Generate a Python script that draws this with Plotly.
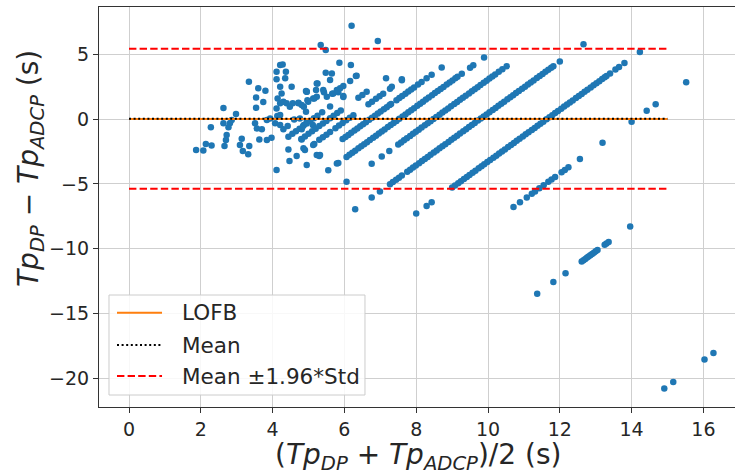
import plotly.graph_objects as go

# ---- scattered points read directly as (mean, difference) ----
cloud_mean = [1.87, 2.07, 2.14, 2.30, 2.28, 2.63, 2.63, 2.81, 2.86, 2.77, 2.72, 2.70, 2.66, 2.98,
              3.14, 3.09, 3.17, 3.35, 3.32, 3.34, 3.54, 3.60, 3.54, 3.74, 3.80, 3.51, 3.56, 3.70,
              3.63, 3.84, 3.97, 3.84, 3.93, 4.11, 4.21, 4.28, 4.11, 4.37, 4.11, 4.35, 4.21, 4.25,
              4.14, 4.21, 4.30, 4.39, 4.56, 4.72, 4.48, 4.11, 4.13, 4.21, 4.07, 4.21, 4.30, 4.42,
              4.44, 4.44, 4.47, 4.67, 4.60, 4.76, 4.81, 4.90, 4.95, 4.81, 4.87, 4.95, 4.93, 4.87,
              4.95, 4.99, 5.21, 5.25, 5.16, 5.12, 5.16, 5.23,
              6.20, 6.93, 5.34, 5.48, 5.86, 6.18, 6.32, 6.16, 5.97, 7.16, 7.60, 7.32, 5.48, 5.65,
              5.60, 5.23, 5.43, 5.66, 5.83, 5.97, 5.23, 4.93, 6.34, 4.53, 4.72, 4.95, 4.97, 5.13,
              4.81, 5.41, 5.51, 5.69, 5.79, 5.88, 5.32, 5.13, 4.86, 5.79]
cloud_diff = [-2.39, -2.42, -1.93, -2.03, -0.64, 0.85, -0.33, -0.33, -0.08, -0.64, -1.23, -1.62, -2.08, 0.39,
              -1.52, -2.00, -2.47, -2.08, -2.72, 2.88, 1.67, 2.37, 0.87, 1.31, 2.18, -0.33, -0.72, -0.79,
              -1.57, -1.62, -1.44, -0.08, 0.05, -3.93, 4.16, 4.21, 3.65, 3.65, 3.06, 3.14, 2.49, 1.98,
              1.59, 1.21, 1.34, 1.21, 1.21, 1.26, 0.95, 0.82, 0.23, 0.31, -0.33, -0.46, -0.79, -0.54,
              -1.36, -2.34, -3.24, -2.85, -0.03, 0.05, -1.57, -2.39, -3.55, -0.79, -0.46, -0.21, 0.56, 0.95,
              2.11, 1.33, 2.24, 2.75, 1.59, -0.46, -1.93, -2.78,
              7.19, 6.01, 5.71, 5.32, 4.34, 4.16, 3.32, 2.93, 2.54, 3.14, 3.06, 2.49, 3.57, 3.52,
              3.01, 2.75, 2.06, 1.95, 2.06, 1.77, 1.72, 2.16, 3.34, 2.49, 1.21, 2.10, 1.46, 1.59,
              1.08, 2.24, 1.72, 1.98, 2.24, 2.37, -2.78, -2.00, -2.26, -3.42]

# ---- points that share one ADCP peak period (the diagonal streaks) ----
# Tp_ADCP level and the Tp_DP values read along each streak
adcp_levels = [5.12, 5.57, 6.10, 6.72, 7.52, 8.48, 9.78, 11.64, 14.10, 18.10, 25.30]

dp_at_5_12 = [3.98, 4.18, 4.38, 4.58, 4.78, 4.98, 5.18, 5.38, 5.64, 6.08, 6.82]
dp_at_5_57 = [4.03, 4.23, 4.43, 4.63, 4.83, 5.03, 5.23, 5.43, 5.63, 5.83, 6.03, 6.23, 7.21, 7.43, 7.67]
dp_at_6_10 = [4.5, 4.7, 4.9, 5.1, 5.4, 5.6, 5.8, 6.0, 6.2, 6.4, 7.24, 7.44, 7.66, 7.86, 8.06, 8.44, 9.1]
dp_at_6_72 = [3.88, 5.18, 5.34, 5.5, 5.66, 5.84, 6.0, 6.16, 6.32, 6.48, 6.66, 6.82, 6.98, 7.14, 7.3,
              7.48, 7.64, 7.8, 7.88, 8.18, 8.34, 8.5, 8.68, 8.84, 9.0, 9.16, 9.38, 9.58, 9.86, 10.14, 10.7]
dp_at_7_52 = [3.58, 4.14, 4.6, 4.76, 4.92, 5.08, 5.26, 5.42, 5.58, 5.74, 5.9, 6.08, 6.24, 6.4, 6.56,
              6.72, 6.9, 7.06, 7.22, 7.38, 7.54, 7.72, 7.88, 8.04, 8.2, 8.36, 8.54, 8.7, 8.86, 9.02,
              9.18, 9.36, 9.52, 9.68, 9.84, 10.0, 10.18, 10.34, 10.5, 10.66, 10.78, 11.02, 11.48, 11.66, 12.26]
dp_at_8_48 = [3.64, 5.04, 5.6, 6.02, 6.52, 6.68, 6.84, 7.0, 7.18, 7.34, 7.5, 7.66, 7.82, 8.0, 8.16,
              8.32, 8.48, 8.64, 8.82, 8.98, 9.14, 9.3, 9.46, 9.64, 9.8, 9.96, 10.12, 10.28, 10.46,
              10.62, 10.78, 10.94, 11.1, 11.28, 11.44, 11.6, 11.76, 11.92, 12.12, 12.32, 12.56]
dp_at_9_78 = [2.82, 3.74, 4.2, 4.76, 4.92, 5.1, 5.26, 5.42, 5.72, 5.88, 6.04, 6.2, 6.38, 6.54, 6.7,
              6.86, 7.02, 7.2, 7.36, 7.52, 7.68, 7.84, 8.02, 8.18, 8.34, 8.5, 8.66, 8.84, 9.0, 9.16,
              9.32, 9.48, 9.66, 9.82, 9.98, 10.14, 10.3, 10.48, 10.64, 10.8, 10.96, 11.12, 11.3,
              11.46, 11.62, 11.78, 11.94, 12.12, 12.28, 12.44, 12.6, 12.76, 12.94, 13.1, 13.26,
              13.42, 13.58, 13.74, 13.86, 14.22, 15.54]
dp_at_11_64 = [4.36, 4.94, 5.22, 6.36, 6.52, 6.7, 6.85, 7.02, 7.18, 7.33, 7.5, 7.66, 7.84, 8.0, 8.15,
               8.32, 8.48, 8.66, 8.82, 8.98, 9.14, 9.3, 9.48, 9.64, 9.8, 9.96, 10.12, 10.3, 10.46,
               10.62, 10.8, 10.96, 11.12, 11.28, 11.44, 11.62, 11.78, 11.94, 12.1, 12.26, 12.44,
               12.6, 12.76, 12.92, 13.08, 13.26, 13.42, 13.58, 13.74, 13.9, 14.08, 14.24, 14.4,
               14.56, 14.72, 14.86, 14.96, 15.16, 15.46, 15.66, 15.96, 16.82]
dp_at_14_10 = [7.32, 7.68, 8.06, 8.34, 8.52, 8.76, 9.0, 9.26, 9.44, 9.64, 10.0, 10.18, 10.38, 11.02,
               12.28, 13.9, 14.74, 15.24, 16.94]
dp_at_18_10 = [4.64, 5.54, 6.22, 7.12, 7.22, 7.32, 7.42, 7.5, 7.6, 7.7, 7.8, 7.9, 8.0, 8.4, 8.5, 8.62, 9.82]
dp_at_25_30 = [4.52, 5.02, 6.76, 7.26]

dp_by_level = [dp_at_5_12, dp_at_5_57, dp_at_6_10, dp_at_6_72, dp_at_7_52, dp_at_8_48,
               dp_at_9_78, dp_at_11_64, dp_at_14_10, dp_at_18_10, dp_at_25_30]

# ---- reference lines ----
line_x = [0, 15]
lofb_value = 0.0
mean_diff = 0.02
std_diff = 2.755

# ---- tick labels / legend labels ----
x_ticks = [0, 2, 4, 6, 8, 10, 12, 14, 16]
y_ticks = [-20, -15, -10, -5, 0, 5]
legend_labels = ["LOFB", "Mean", "Mean ±1.96*Std"]

# Build mean / difference for Bland-Altman plot
xs = list(cloud_mean)
ys = list(cloud_diff)
for adcp, dps in zip(adcp_levels, dp_by_level):
    for dp in dps:
        xs.append((dp + adcp) / 2.0)
        ys.append(dp - adcp)

upper = mean_diff + 1.96 * std_diff
lower = mean_diff - 1.96 * std_diff

lofb_style = dict(color="#ff7f0e", width=2)
mean_style = dict(color="black", width=2, dash="2px,2.6px")
loa_style = dict(color="#ff0000", width=2, dash="7.4px,3.2px")

fig = go.Figure()
fig.add_trace(go.Scatter(x=xs, y=ys, mode="markers", showlegend=False,
                         marker=dict(color="#1f77b4", size=6.5, line=dict(width=0))))
fig.add_trace(go.Scatter(x=line_x, y=[lofb_value, lofb_value], mode="lines", name=legend_labels[0],
                         line=lofb_style, showlegend=False))
fig.add_trace(go.Scatter(x=line_x, y=[mean_diff, mean_diff], mode="lines", name=legend_labels[1],
                         line=mean_style, showlegend=False))
fig.add_trace(go.Scatter(x=[line_x[0], line_x[1], None, line_x[0], line_x[1]],
                         y=[upper, upper, None, lower, lower], mode="lines",
                         name=legend_labels[2], line=loa_style, showlegend=False))

font_family = "DejaVu Sans"
title_font = dict(size=28, family=font_family, color="#262626")

# ---- legend box drawn in paper coordinates (matplotlib-like layout) ----
shapes = [dict(type="rect", xref="paper", yref="paper", x0=0.0157, x1=0.4182, y0=0.03, y1=0.28,
               fillcolor="rgba(255,255,255,0.85)", line=dict(color="#cccccc", width=1), layer="above")]
annotations = []
entry_y = [0.2358, 0.155, 0.0775]
for label, style, ey in zip(legend_labels, [lofb_style, mean_style, loa_style], entry_y):
    shapes.append(dict(type="line", xref="paper", yref="paper", x0=0.0283, x1=0.0991, y0=ey, y1=ey,
                       line=style, layer="above"))
    annotations.append(dict(text=label, xref="paper", yref="paper", x=0.1274, y=ey,
                            xanchor="left", yanchor="middle", showarrow=False,
                            font=dict(size=21.5, family=font_family, color="#262626")))

annotations += [
    dict(text="(<i>Tp</i><sub><i>DP</i></sub> + <i>Tp</i><sub><i>ADCP</i></sub>)/2 (s)",
         xref="paper", yref="paper", x=0.5016, y=0, yshift=-49,
         xanchor="center", yanchor="middle", showarrow=False, font=title_font),
    dict(text="<i>Tp</i><sub><i>DP</i></sub> − <i>Tp</i><sub><i>ADCP</i></sub> (s)",
         xref="paper", yref="paper", x=-0.1085, y=0.5975, textangle=-90,
         xanchor="center", yanchor="middle", showarrow=False, font=title_font),
]

fig.update_layout(
    width=735, height=475,
    margin=dict(l=99, r=0, t=7, b=68, autoexpand=False),
    plot_bgcolor="white", paper_bgcolor="white",
    font=dict(family=font_family, color="#262626", size=19),
    showlegend=False,
    xaxis=dict(range=[-0.836, 16.88], tickvals=x_ticks, automargin=False,
               showgrid=True, gridcolor="#cfcfcf", gridwidth=1, zeroline=False,
               showline=True, linecolor="#333333", linewidth=1.2, mirror=True,
               ticks="outside", ticklen=5, tickcolor="#333333"),
    yaxis=dict(range=[-22.2, 8.64], tickvals=y_ticks, automargin=False,
               showgrid=True, gridcolor="#cfcfcf", gridwidth=1, zeroline=False,
               showline=True, linecolor="#333333", linewidth=1.2, mirror=False,
               ticks="outside", ticklen=5, tickcolor="#333333"),
    shapes=shapes,
    annotations=annotations,
)

fig.write_html("out.html", config={"displayModeBar": False},
               post_script="document.body.style.margin='0';document.body.style.overflow='hidden';")
